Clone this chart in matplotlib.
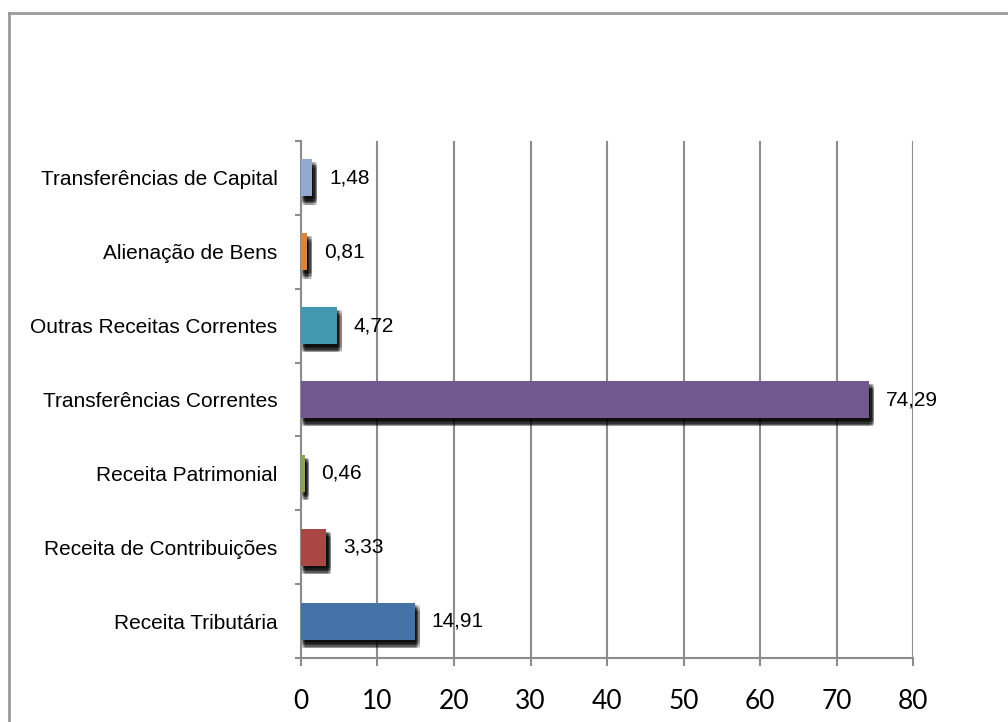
import matplotlib
matplotlib.use("Agg")
import matplotlib.pyplot as plt
import matplotlib.patheffects as pe
from matplotlib.lines import Line2D
import numpy as np

categorias = ["Receita Tributária", "Receita de Contribuições", "Receita Patrimonial",
              "Transferências Correntes", "Outras Receitas Correntes",
              "Alienação de Bens", "Transferências de Capital"]
valores = [14.91, 3.33, 0.46, 74.29, 4.72, 0.81, 1.48]
rotulos = ["14,91", "3,33", "0,46", "74,29", "4,72", "0,81", "1,48"]
cores = ["#4572A7", "#AA4643", "#89A54E", "#71588F", "#4198AF", "#DB843D", "#93A9CF"]
xticks = [0, 10, 20, 30, 40, 50, 60, 70, 80]

fig = plt.figure(figsize=(10.08, 7.22), dpi=100)
ax = fig.add_axes([0.2986, 0.0886, 0.6072, 0.7161])

# sombra "borrada": várias sombras deslocadas com pouca opacidade
sombra = []
for dx in [0.8, 1.6, 2.4, 3.2]:
    for dy in [-2.0, -3.0, -4.0, -5.0, -6.0]:
        sombra.append(pe.SimplePatchShadow(offset=(dx, dy), shadow_rgbFace="black", alpha=0.12))
sombra.append(pe.Normal())

y = np.arange(len(categorias))
barras = ax.barh(y, valores, height=0.5, color=cores, zorder=3)
for b in barras:
    b.set_path_effects(sombra)

for yi, v, r in zip(y, valores, rotulos):
    ax.annotate(r, (v, yi), xytext=(12, 0), textcoords="offset points",
                ha="left", va="center", fontsize=15, family="Liberation Sans", zorder=5)

ax.set_xlim(0, 80)
ax.set_ylim(-0.5, len(categorias) - 0.5)
ax.set_xticks(xticks)
ax.set_xticklabels([str(t) for t in xticks], fontsize=19, family="Lato")
ax.set_yticks(y)
ax.set_yticklabels(categorias, fontsize=15, family="Liberation Sans")
ax.set_yticks(np.arange(-0.5, len(categorias), 1), minor=True)

ax.grid(axis="x", color="#8c8c8c", linewidth=1.5, zorder=0)
for s in ["top", "right"]:
    ax.spines[s].set_visible(False)
for s in ["left", "bottom"]:
    ax.spines[s].set_color("#8c8c8c")
    ax.spines[s].set_linewidth(1.5)

ax.tick_params(axis="x", direction="out", length=6, width=1.5, color="#8c8c8c", pad=16)
ax.tick_params(axis="y", which="major", length=0, pad=17)
ax.tick_params(axis="y", which="minor", direction="out", length=4, width=1.5, color="#8c8c8c")

# moldura
fig.add_artist(Line2D([0.0089, 1.0], [0.982, 0.982], color="#9a9a9a", linewidth=2))
fig.add_artist(Line2D([0.0089, 0.0089], [0.0, 0.982], color="#9a9a9a", linewidth=2))

fig.savefig("out.png", dpi=100)
